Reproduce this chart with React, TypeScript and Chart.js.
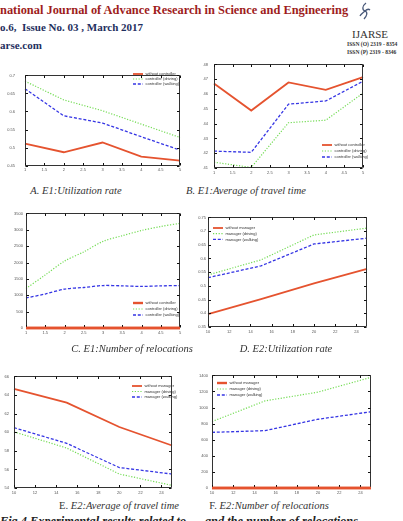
import React, { useEffect, useRef } from "react";
import { Chart, registerables } from "chart.js";

Chart.register(...registerables);

// ---------- E1: x runs 1 .. 5 ----------
const e1Steps = [1, 2, 3, 4, 5];
const e1HalfSteps = [1, 1.5, 2, 2.5, 3, 3.5, 4, 4.5, 5];
const e1XTicks = [1, 1.5, 2, 2.5, 3, 3.5, 4, 4.5, 5];

const utilE1None = [0.511, 0.487, 0.514, 0.475, 0.464];
const utilE1Driving = [0.684, 0.632, 0.602, 0.565, 0.528];
const utilE1Walking = [0.663, 0.588, 0.568, 0.53, 0.493];
const utilE1YTicks = [0.45, 0.5, 0.55, 0.6, 0.65, 0.7];

const travelE1None = [46.71, 44.88, 46.78, 46.28, 47.14];
const travelE1Driving = [41.39, 41.04, 44.06, 44.23, 46.06];
const travelE1Walking = [42.14, 42.06, 45.31, 45.53, 46.86];
const travelE1YTicks = [41, 42, 43, 44, 45, 46, 47, 48];

const relocE1None = [0, 0, 0, 0, 0, 0, 0, 0, 0];
const relocE1Driving = [1207, 1620, 2043, 2323, 2646, 2818, 2978, 3099, 3198];
const relocE1Walking = [917, 1038, 1189, 1237, 1297, 1287, 1270, 1287, 1297];
const relocE1YTicks = [0, 500, 1000, 1500, 2000, 2500, 3000, 3500];

// ---------- E2: x runs 10 .. 25 ----------
const e2Steps = [10, 15, 20, 25];
const e2XTicks = [10, 12, 14, 16, 18, 20, 22, 24];

const utilE2None = [0.397, 0.452, 0.509, 0.562];
const utilE2Driving = [0.54, 0.595, 0.686, 0.711];
const utilE2Walking = [0.53, 0.573, 0.653, 0.674];
const utilE2YTicks = [0.35, 0.4, 0.45, 0.5, 0.55, 0.6, 0.65, 0.7, 0.75];

const travelE2None = [64.67, 63.17, 60.56, 58.57];
const travelE2Driving = [60.04, 58.3, 55.5, 54.28];
const travelE2Walking = [60.49, 58.8, 56.2, 55.5];
const travelE2YTicks = [54, 56, 58, 60, 62, 64, 66];

const relocE2None = [0, 0, 0, 0];
const relocE2Driving = [826, 1083, 1192, 1376];
const relocE2Walking = [692, 713, 855, 948];
const relocE2YTicks = [0, 200, 400, 600, 800, 1000, 1200, 1400];

const controllerLabels = ["without controller", "controller (driving)", "controller (walking)"];
const managerLabels = ["without manager", "manager (driving)", "manager (walking)"];

type Kind = "solid" | "dot" | "dash";
const lineKinds: Kind[] = ["solid", "dot", "dash"];

const kindStyle: Record<Kind, { color: string; width: number; dash: number[] }> = {
  solid: { color: "#e5532f", width: 1.8, dash: [] },
  dot: { color: "#74dc55", width: 1.2, dash: [1.2, 1.6] },
  dash: { color: "#3535e4", width: 1.3, dash: [3, 1.8] },
};

type PanelCfg = {
  frame: [number, number, number, number]; // left, top, right, bottom (page px)
  xs: number[];
  xMin: number;
  xMax: number;
  xTicks: number[];
  yTicks: number[];
  yPad: number;
  series: number[][];
  labels: string[];
  legend: [number, number, number]; // sample x, first row y, row gap (page px)
  tension?: number;
  baselineOnTop?: boolean;
};

const LW = 26;
const PT = 4;
const PR = 7;
const XH = 10;

function Panel({ cfg }: { cfg: PanelCfg }) {
  const ref = useRef<HTMLCanvasElement | null>(null);
  const [l, t, r, b] = cfg.frame;
  const cw = r - l + LW + PR;
  const ch = b - t + PT + XH;
  const ox = l - LW;
  const oy = t - PT;

  useEffect(() => {
    const canvas = ref.current;
    if (!canvas) return;

    // axes box with inward tick marks on all four sides
    const drawBox = (chart: any) => {
      const ctx = chart.ctx as CanvasRenderingContext2D;
      const xs = chart.scales.x;
      const ys = chart.scales.y;
      const L = Math.round(xs.getPixelForValue(cfg.xMin)) + 0.5;
      const R = Math.round(xs.getPixelForValue(cfg.xMax)) - 0.5;
      const T = Math.round(ys.getPixelForValue(cfg.yTicks[cfg.yTicks.length - 1])) + 0.5;
      const B = Math.round(ys.getPixelForValue(cfg.yTicks[0])) - 0.5;
      ctx.save();
      ctx.globalAlpha = 1;
      ctx.setLineDash([]);
      ctx.strokeStyle = "#333333";
      ctx.lineWidth = 1;
      ctx.beginPath();
      ctx.moveTo(L, T);
      ctx.lineTo(R, T);
      ctx.lineTo(R, B);
      ctx.lineTo(L, B);
      ctx.closePath();
      ctx.stroke();
      ctx.strokeStyle = "#111111";
      ctx.beginPath();
      for (const v of cfg.xTicks) {
        const px = Math.round(xs.getPixelForValue(v)) + 0.5;
        ctx.moveTo(px, B);
        ctx.lineTo(px, B - 2.5);
        ctx.moveTo(px, T);
        ctx.lineTo(px, T + 2.5);
      }
      for (const v of cfg.yTicks) {
        const py = Math.round(ys.getPixelForValue(v)) + 0.5;
        ctx.moveTo(L, py);
        ctx.lineTo(L + 2.5, py);
        ctx.moveTo(R, py);
        ctx.lineTo(R - 2.5, py);
      }
      ctx.stroke();
      ctx.restore();
    };

    const drawLegend = (chart: any) => {
      const ctx = chart.ctx as CanvasRenderingContext2D;
      const [lx, ly, gap] = cfg.legend;
      ctx.save();
      chart.data.datasets.forEach((ds: any, i: number) => {
        const y = ly - oy + i * gap;
        const x = lx - ox;
        ctx.strokeStyle = ds.borderColor;
        ctx.lineWidth = ds.borderWidth;
        ctx.setLineDash(ds.borderDash || []);
        ctx.beginPath();
        ctx.moveTo(x, y);
        ctx.lineTo(x + 10, y);
        ctx.stroke();
        ctx.setLineDash([]);
        ctx.fillStyle = "#333333";
        ctx.font = "4px 'Liberation Sans'";
        ctx.textBaseline = "middle";
        ctx.fillText(ds.label, x + 12.5, y);
      });
      ctx.restore();
    };

    const boxPlugin = {
      id: "boxTicks",
      afterDraw(chart: any) {
        drawBox(chart);
        if (cfg.baselineOnTop) {
          // the zero series sits on the bottom edge; keep it above the box
          const meta = chart.getDatasetMeta(0);
          meta.dataset.draw(chart.ctx, chart.chartArea);
        }
        drawLegend(chart);
      },
    };

    const datasets = cfg.series.map((vals, i) => {
      const st = kindStyle[lineKinds[i]];
      return {
        label: cfg.labels[i],
        data: cfg.xs.map((x, j) => ({ x, y: vals[j] })),
        borderColor: st.color,
        backgroundColor: st.color,
        borderWidth: cfg.baselineOnTop && i === 0 ? 2.4 : st.width,
        borderDash: st.dash,
        pointRadius: 0,
        tension: cfg.tension ?? 0,
        clip: false as any,
        order: 3 - i,
      };
    });

    const yMin = cfg.yTicks[0];
    const yMax = cfg.yTicks[cfg.yTicks.length - 1];

    const chart = new Chart(canvas, {
      type: "line",
      data: { datasets },
      options: {
        animation: false,
        responsive: false,
        maintainAspectRatio: false,
        layout: { padding: { top: PT, right: PR, left: 0, bottom: 0 } },
        plugins: { legend: { display: false }, tooltip: { enabled: false } },
        scales: {
          x: {
            type: "linear",
            min: cfg.xMin,
            max: cfg.xMax,
            afterBuildTicks: (s: any) => {
              s.ticks = cfg.xTicks.map((v) => ({ value: v }));
            },
            afterFit: (s: any) => {
              s.height = XH;
            },
            ticks: {
              autoSkip: false,
              maxRotation: 0,
              padding: 2,
              color: "#555555",
              font: { size: 4, family: "Liberation Sans" },
              callback: (v: any) => String(v),
            },
            grid: { display: false, drawTicks: false },
            border: { display: false },
          },
          y: {
            type: "linear",
            min: yMin,
            max: yMax,
            afterBuildTicks: (s: any) => {
              s.ticks = cfg.yTicks.map((v) => ({ value: v }));
            },
            afterFit: (s: any) => {
              s.width = LW;
            },
            ticks: {
              autoSkip: false,
              padding: cfg.yPad,
              color: "#555555",
              font: { size: 4, family: "Liberation Sans" },
              callback: (v: any) => String(v),
            },
            grid: { display: false, drawTicks: false },
            border: { display: false },
          },
        },
      } as any,
      plugins: [boxPlugin],
    });
    return () => chart.destroy();
  }, []);

  return (
    <canvas
      ref={ref}
      width={cw}
      height={ch}
      style={{ position: "absolute", left: ox, top: oy, width: cw, height: ch }}
    />
  );
}

const panels: PanelCfg[] = [
  {
    frame: [25, 67, 180, 168],
    xs: e1Steps, xMin: 1, xMax: 5, xTicks: e1XTicks, yTicks: utilE1YTicks, yPad: 10,
    series: [utilE1None, utilE1Driving, utilE1Walking],
    labels: controllerLabels, legend: [133, 74, 5],
  },
  {
    frame: [214, 60, 363, 168],
    xs: e1Steps, xMin: 1, xMax: 5, xTicks: e1XTicks, yTicks: travelE1YTicks, yPad: 6,
    series: [travelE1None, travelE1Driving, travelE1Walking],
    labels: controllerLabels, legend: [322, 145, 6],
  },
  {
    frame: [26, 212, 180, 328],
    xs: e1HalfSteps, xMin: 1, xMax: 5, xTicks: e1XTicks, yTicks: relocE1YTicks, yPad: 3,
    series: [relocE1None, relocE1Driving, relocE1Walking],
    labels: controllerLabels, legend: [133, 303, 6], tension: 0.3, baselineOnTop: true,
  },
  {
    frame: [208, 217, 367, 327],
    xs: e2Steps, xMin: 10, xMax: 25, xTicks: e2XTicks, yTicks: utilE2YTicks, yPad: 2,
    series: [utilE2None, utilE2Driving, utilE2Walking],
    labels: managerLabels, legend: [213, 228, 5.7],
  },
  {
    frame: [14, 373, 172, 488],
    xs: e2Steps, xMin: 10, xMax: 25, xTicks: e2XTicks, yTicks: travelE2YTicks, yPad: 5,
    series: [travelE2None, travelE2Driving, travelE2Walking],
    labels: managerLabels, legend: [132, 386, 5.5],
  },
  {
    frame: [212, 373, 371, 488],
    xs: e2Steps, xMin: 10, xMax: 25, xTicks: e2XTicks, yTicks: relocE2YTicks, yPad: 4,
    series: [relocE2None, relocE2Driving, relocE2Walking],
    labels: managerLabels, legend: [217, 383, 6], baselineOnTop: true,
  },
];

const serif = "'Liberation Serif', 'Times New Roman', serif";

function Caption({ cx, cy, tag, text, upright }: { cx: number; cy: number; tag: string; text: string; upright?: boolean }) {
  return (
    <div
      style={{
        position: "absolute",
        left: cx - 100,
        top: cy - 7,
        width: 200,
        textAlign: "center",
        fontFamily: serif,
        fontSize: 10.5,
        lineHeight: "14px",
        color: "#333",
        whiteSpace: "nowrap",
      }}
    >
      <span style={{ fontStyle: upright ? "normal" : "italic" }}>{tag}</span>
      <span style={{ fontStyle: "italic" }}>{text}</span>
    </div>
  );
}

export default function App() {
  return (
    <div
      style={{
        position: "absolute",
        left: 0,
        top: 0,
        width: 403,
        height: 521,
        overflow: "hidden",
        background: "#ffffff",
      }}
    >
      {/* journal header */}
      <div style={{ position: "absolute", left: 0, top: 3, whiteSpace: "nowrap", fontFamily: serif, fontWeight: "bold", fontSize: 12.4, color: "#9e1c1c", lineHeight: "15px" }}>
        national Journal of Advance Research in Science and Engineering
      </div>
      <div style={{ position: "absolute", left: 0, top: 20, whiteSpace: "nowrap", fontFamily: serif, fontWeight: "bold", fontSize: 11, color: "#1f2f5e", lineHeight: "14px" }}>
        o.6,&nbsp; Issue No. 03 , March 2017
      </div>
      <div style={{ position: "absolute", left: 0, top: 38, whiteSpace: "nowrap", fontFamily: serif, fontWeight: "bold", fontSize: 11, color: "#1f2f5e", lineHeight: "14px" }}>
        arse.com
      </div>
      <svg style={{ position: "absolute", left: 358, top: 2 }} width={14} height={20} viewBox="0 0 14 20">
        <path d="M8 1 C4 4, 4 8, 7 9 C10 10, 9 14, 6 17 M7 9 C5 11, 3 12, 2 14 M7 9 C9 7, 11 7, 12 8" stroke="#4a5a7a" strokeWidth={1.3} fill="none" />
      </svg>
      <div style={{ position: "absolute", left: 352, top: 28, whiteSpace: "nowrap", fontFamily: serif, fontSize: 11, color: "#333", lineHeight: "13px" }}>
        IJARSE
      </div>
      <div style={{ position: "absolute", left: 347, top: 40, whiteSpace: "nowrap", fontFamily: serif, fontWeight: "bold", fontSize: 5.6, color: "#333", lineHeight: "8px" }}>
        ISSN (O) 2319 - 8354
      </div>
      <div style={{ position: "absolute", left: 347, top: 48, whiteSpace: "nowrap", fontFamily: serif, fontWeight: "bold", fontSize: 5.6, color: "#333", lineHeight: "8px" }}>
        ISSN (P) 2319 - 8346
      </div>

      {panels.map((p, i) => (
        <Panel key={i} cfg={p} />
      ))}

      <Caption cx={76} cy={191} tag="A.  " text="E1:Utilization rate" />
      <Caption cx={246} cy={191} tag="B. " text="E1:Average of travel time" />
      <Caption cx={132} cy={349} tag="C. " text="E1:Number of relocations" />
      <Caption cx={286} cy={349} tag="D. " text="E2:Utilization rate" />
      <Caption cx={119} cy={506} tag="E. " text="E2:Average of travel time" upright />
      <Caption cx={269} cy={506} tag="F. " text="E2:Number of relocations" upright />

      <div style={{ position: "absolute", left: 0, top: 514, whiteSpace: "nowrap", fontFamily: serif, fontWeight: "bold", fontStyle: "italic", fontSize: 12.3, color: "#222", lineHeight: "14px" }}>
        Fig.4 Experimental results related to
      </div>
      <div style={{ position: "absolute", right: 45, top: 514, whiteSpace: "nowrap", fontFamily: serif, fontWeight: "bold", fontStyle: "italic", fontSize: 12.3, color: "#222", lineHeight: "14px" }}>
        and the number of relocations
      </div>
    </div>
  );
}
